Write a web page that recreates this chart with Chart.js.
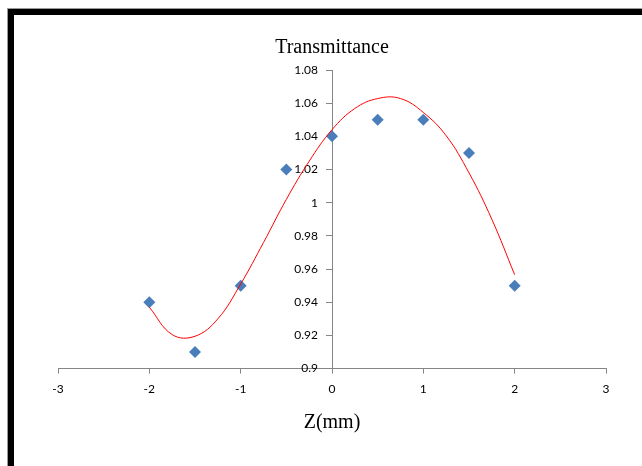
<!DOCTYPE html>
<html>
<head>
<meta charset="utf-8">
<script src="https://cdn.jsdelivr.net/npm/chart.js@4"></script>
<style>
  html, body { margin: 0; padding: 0; background: #fff; }
  #wrap { position: relative; width: 642px; height: 466px; overflow: hidden; }
  .frame-out { position: absolute; left: 7px; top: 8px; width: 700px; height: 500px;
               border-left: 1px solid #9a9a9a; border-top: 1px solid #9a9a9a; }
  .frame-in { position: absolute; left: 8px; top: 9px; width: 700px; height: 500px;
              border-left: 6px solid #000; border-top: 6px solid #000; }
  #chart { position: absolute; left: 0; top: 0; }
</style>
</head>
<body>
<div id="wrap">
  <div class="frame-out"></div>
  <div class="frame-in"></div>
  <canvas id="chart" width="642" height="466"></canvas>
</div>
<script>
// measured points
const zPos = [-2, -1.5, -1, -0.5, 0, 0.5, 1, 1.5, 2];
const transmittance = [0.94, 0.91, 0.95, 1.02, 1.04, 1.05, 1.05, 1.03, 0.95];

// red trendline
const fitZ = [-2, -1.75, -1.5, -1.25, -1, -0.75, -0.5, -0.25, 0, 0.25, 0.5, 0.75, 1, 1.25, 1.5, 1.75, 2];
const fitT = [0.937, 0.9205, 0.9195, 0.930, 0.951, 0.976, 1.002, 1.025, 1.044, 1.0568, 1.0628, 1.0628, 1.0544, 1.0404, 1.018, 0.990, 0.9566];

// axis ranges
const xRange = [-3, 3];
const yRange = [0.9, 1.08];
const yStep = 0.02;

const axisGrey = '#868686';
const tickFont = { family: 'Lato', size: 12 };

function toXY(xs, ys) {
    return xs.map((x, i) => ({ x: x, y: ys[i] }));
}

function fmtY(v) {
    return String(Number(v.toFixed(2)));
}

// a y axis placed at x=0 puts its labels right on the line,
// so draw them ourselves a bit to the left of the tick marks
const yTickLabels = {
    id: 'yTickLabels',
    beforeDatasetsDraw(chart) {
        const ctx = chart.ctx;
        const yScale = chart.scales.y;
        const axisX = chart.scales.x.getPixelForValue(0);
        ctx.save();
        ctx.font = tickFont.size + 'px ' + tickFont.family;
        ctx.fillStyle = '#000';
        ctx.textAlign = 'right';
        ctx.textBaseline = 'middle';
        yScale.ticks.forEach(t => {
            ctx.fillText(fmtY(t.value), axisX - 14, yScale.getPixelForValue(t.value));
        });
        ctx.restore();
    }
};

new Chart(document.getElementById('chart'), {
    type: 'scatter',
    data: {
        datasets: [
            {
                label: 'Transmittance',
                data: toXY(zPos, transmittance),
                pointStyle: 'rectRot',
                pointRadius: 6,
                pointHoverRadius: 6,
                backgroundColor: '#4a7ebb',
                borderColor: '#4a7ebb',
                borderWidth: 0,
                order: 1
            },
            {
                label: 'Fit',
                data: toXY(fitZ, fitT),
                showLine: true,
                pointRadius: 0,
                borderColor: '#ff0000',
                borderWidth: 1,
                tension: 0.4,
                fill: false,
                order: 0
            }
        ]
    },
    options: {
        responsive: false,
        animation: false,
        layout: { padding: { left: 58, right: 36, top: 0, bottom: 18 } },
        scales: {
            x: {
                type: 'linear',
                min: xRange[0],
                max: xRange[1],
                ticks: {
                    stepSize: 1,
                    padding: 8,
                    color: '#000',
                    font: tickFont
                },
                grid: { drawOnChartArea: false, tickLength: 5, color: axisGrey },
                border: { color: axisGrey },
                title: {
                    display: true,
                    text: 'Z(mm)',
                    color: '#000',
                    font: { family: 'Liberation Serif', size: 20 },
                    padding: { top: 7, bottom: 13 }
                }
            },
            y: {
                position: { x: 0 },
                min: yRange[0],
                max: yRange[1],
                ticks: {
                    stepSize: yStep,
                    display: false
                },
                grid: { drawOnChartArea: false, tickLength: 6, color: axisGrey },
                border: { color: axisGrey }
            }
        },
        plugins: {
            legend: { display: false },
            tooltip: { enabled: false },
            title: {
                display: true,
                text: 'Transmittance',
                color: '#000',
                font: { family: 'Liberation Serif', size: 20, weight: 'normal' },
                padding: { top: 36, bottom: 10 }
            }
        }
    },
    plugins: [yTickLabels]
});
</script>
</body>
</html>
